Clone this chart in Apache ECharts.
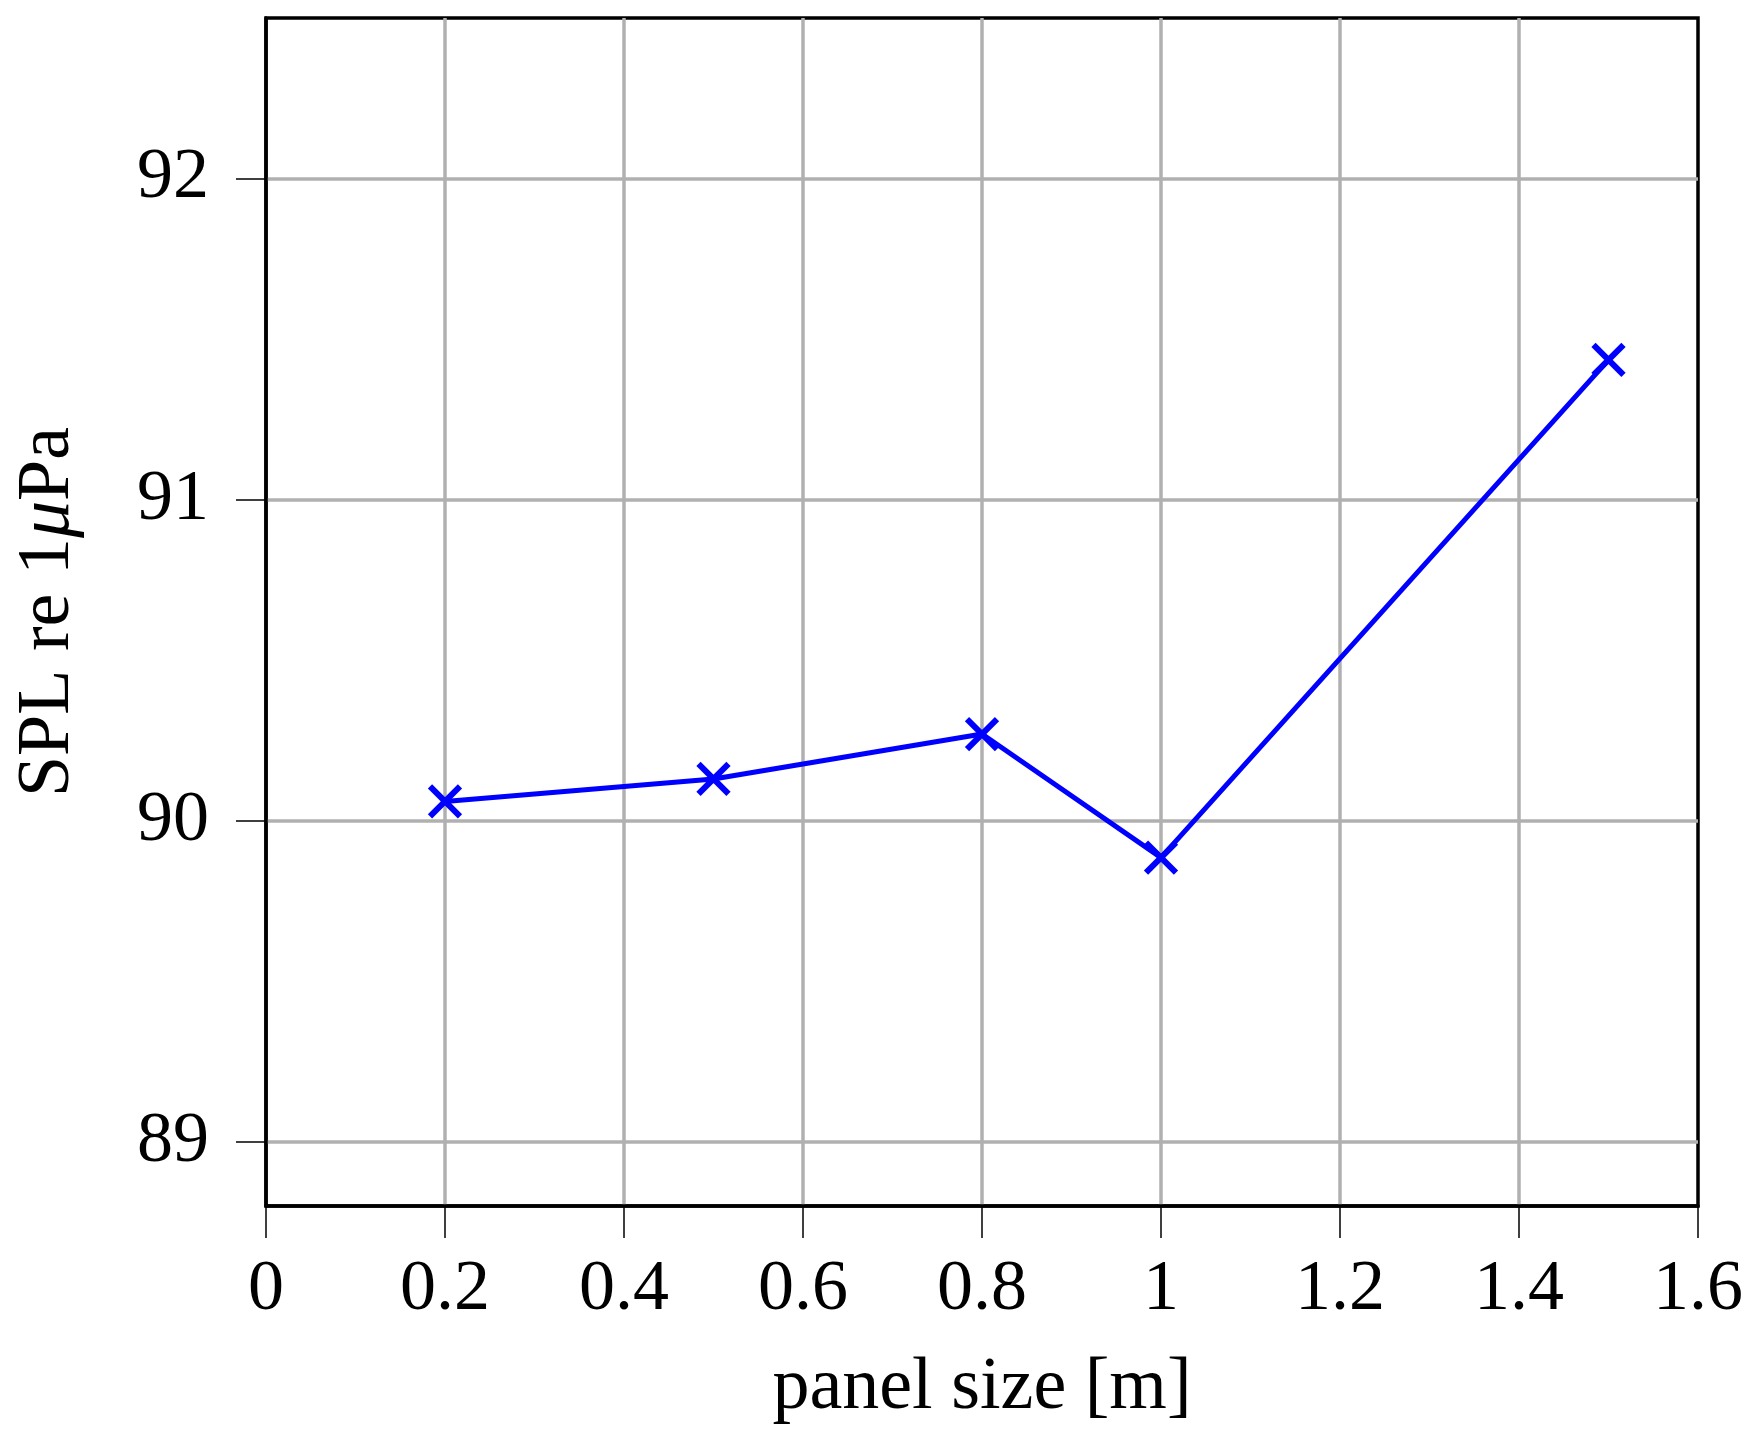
<!DOCTYPE html>
<html>
<head>
<meta charset="utf-8">
<script src="https://cdn.jsdelivr.net/npm/echarts@6/dist/echarts.min.js"></script>
<style>
  html, body { margin: 0; padding: 0; background: #fff; }
  #chart { width: 1754px; height: 1456px; }
</style>
</head>
<body>
<div id="chart"></div>
<script>
// panel size [m] vs SPL
const panelSize = [0.2, 0.5, 0.8, 1.0, 1.5];
const spl = [90.06, 90.13, 90.27, 89.885, 91.435];
const yTicks = [89, 90, 91, 92];

const font = '"Liberation Serif", "DejaVu Serif", serif';

const chart = echarts.init(document.getElementById('chart'));

const option = {
  backgroundColor: '#fff',
  animation: false,
  grid: {
    left: 266,
    right: 56,
    top: 18,
    bottom: 250,
    outerBoundsMode: 'none',
    show: true,
    borderColor: '#000',
    borderWidth: 3.5,
    backgroundColor: 'transparent'
  },
  xAxis: {
    type: 'value',
    min: 0,
    max: 1.6,
    interval: 0.2,
    name: 'panel size [m]',
    nameLocation: 'middle',
    nameGap: 146,
    nameTextStyle: { fontFamily: font, fontSize: 74, color: '#000' },
    axisLine: { show: true, lineStyle: { color: '#000', width: 3.5 } },
    axisTick: { show: true, length: 32, lineStyle: { color: '#000', width: 1.5 } },
    axisLabel: { margin: 48, fontFamily: font, fontSize: 72, color: '#000' },
    splitLine: {
      show: true,
      showMinLine: false,
      showMaxLine: false,
      lineStyle: { color: '#b0b0b0', width: 3.5 }
    }
  },
  yAxis: {
    type: 'value',
    min: 88.8,
    max: 92.5,
    name: '{a|SPL re 1}{b|μ}{a|Pa}',
    nameLocation: 'middle',
    nameRotate: 90,
    nameGap: 180,
    nameTextStyle: {
      fontFamily: font,
      fontSize: 74,
      color: '#000',
      rich: {
        a: { fontFamily: font, fontSize: 74, color: '#000' },
        b: { fontFamily: font, fontSize: 74, fontStyle: 'italic', color: '#000' }
      }
    },
    axisLine: { show: true, lineStyle: { color: '#000', width: 3.5 } },
    axisTick: {
      show: true,
      length: 30,
      customValues: yTicks,
      lineStyle: { color: '#000', width: 1.5 }
    },
    axisLabel: {
      margin: 57,
      customValues: yTicks,
      fontFamily: font,
      fontSize: 72,
      color: '#000'
    },
    splitLine: { show: true, lineStyle: { color: '#b0b0b0', width: 3.5 } }
  },
  series: [
    {
      type: 'line',
      data: panelSize.map((x, i) => [x, spl[i]]),
      symbol: 'path://M0,0L10,10M0,10L10,0',
      symbolSize: 30,
      itemStyle: { color: '#0000ff', borderColor: '#0000ff', borderWidth: 6 },
      lineStyle: { color: '#0000ff', width: 5 },
      clip: false,
      z: 5
    }
  ]
};

chart.setOption(option);
</script>
</body>
</html>
